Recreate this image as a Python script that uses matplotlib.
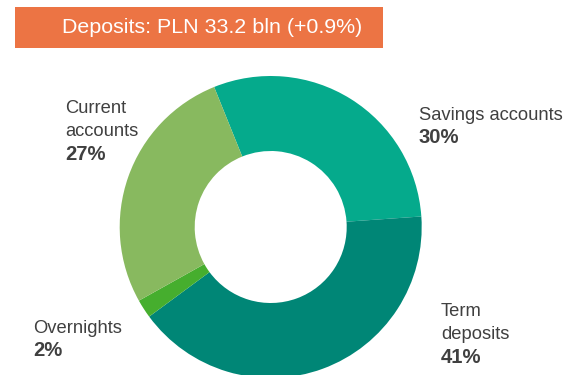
import matplotlib.pyplot as plt
from matplotlib.patches import Rectangle

plt.rcParams['font.family'] = ['Liberation Sans', 'DejaVu Sans']

# deposit structure, clockwise from the top
segments = ['Savings accounts', 'Term deposits', 'Overnights', 'Current accounts']
shares = [30, 41, 2, 27]
colors = ['#05AA8C', '#008676', '#46AE2E', '#88B95F']
label_lines = [['Savings accounts'], ['Term', 'deposits'], ['Overnights'], ['Current', 'accounts']]
title = 'Deposits: PLN 33.2 bln (+0.9%)'

W, H = 568, 375
fig = plt.figure(figsize=(W / 100, H / 100), dpi=100)
ax = fig.add_axes([0, 0, 1, 1])

# work in pixel units, y measured from the bottom
ax.pie(shares, colors=colors, startangle=112, counterclock=False,
       center=(270.7, H - 227), radius=151,
       wedgeprops=dict(width=75, linewidth=0))
ax.set_xlim(0, W)
ax.set_ylim(0, H)
ax.set_aspect('equal')
ax.axis('off')

# orange header box
ax.add_patch(Rectangle((15, H - 48), 368, 41, facecolor='#EC7444',
                       edgecolor='none', clip_on=False))
ax.text(212, H - 27.5, title, color='white', fontsize=15.4,
        ha='center', va='center')

# label anchors: left x, baseline of the first line
anchors = [(419, 120), (441, 316), (33, 333), (65, 113)]
step = 23.3
for lines, share, (x, y) in zip(label_lines, shares, anchors):
    for i, line in enumerate(lines):
        ax.text(x, H - (y + i * step), line, color='#404040', fontsize=13.2,
                ha='left', va='baseline')
    ax.text(x, H - (y + len(lines) * step), f'{share}%', color='#404040',
            fontsize=14.6, fontweight='bold', ha='left', va='baseline')

fig.savefig('out.png', dpi=100)
